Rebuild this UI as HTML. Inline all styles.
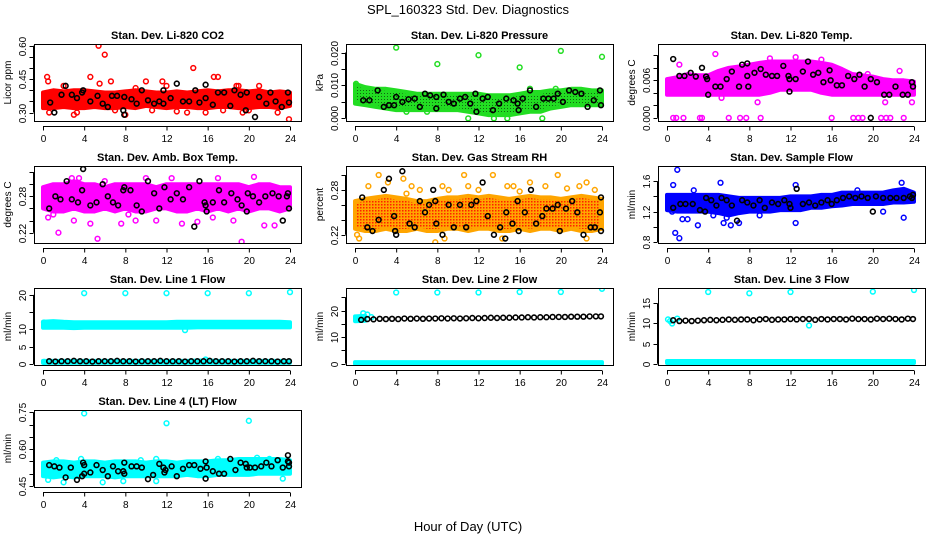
<!DOCTYPE html>
<html><head><meta charset="utf-8"><style>
html,body{margin:0;padding:0;background:#fff}
svg{display:block;font-family:"Liberation Sans",sans-serif}
</style></head><body>
<svg id="chart" width="936" height="540" viewBox="0 0 936 540">
<defs>
<pattern id="rhpat" width="3" height="3" patternUnits="userSpaceOnUse"><rect width="3" height="3" fill="#FFA500"/><rect width="1.5" height="1.5" fill="#FF2000"/></pattern>
<pattern id="prpat" width="3" height="3" patternUnits="userSpaceOnUse"><rect width="3" height="3" fill="#22DD22"/><rect width="1" height="1" fill="#116611"/></pattern>
</defs>
<text x="468" y="14" text-anchor="middle" font-size="13">SPL_160323  Std. Dev. Diagnostics</text>
<text x="468" y="531" text-anchor="middle" font-size="13">Hour of Day (UTC)</text>
</svg>
<script>
const bandHours = [0,1,2,3,4,5,6,7,8,9,10,11,12,13,14,15,16,17,18,19,20,21,22,23,24];
const xTicks = [0,4,8,12,16,20,24];
const panelTitles = ["Stan. Dev. Li-820 CO2","Stan. Dev. Li-820 Pressure","Stan. Dev. Li-820 Temp.","Stan. Dev. Amb. Box Temp.","Stan. Dev. Gas Stream RH","Stan. Dev. Sample Flow","Stan. Dev. Line 1 Flow","Stan. Dev. Line 2 Flow","Stan. Dev. Line 3 Flow","Stan. Dev. Line 4 (LT) Flow"];
const yTitles = ["Licor ppm","kPa","degrees C","degrees C","percent","ml/min","ml/min","ml/min","ml/min","ml/min"];
const yDomains = [[0.262,0.608],[-0.0008,0.0226],[-0.0005,0.0118],[0.203,0.33],[0.209,0.312],[0.787,1.80],[-0.3,22],[-0.5,28.5],[-0.3,18.8],[0.446,0.759]];
const yTickVals = [[0.30,0.35,0.40,0.45,0.50,0.55,0.60],[0,0.005,0.010,0.015,0.020],[0,0.002,0.004,0.006,0.008,0.010],[0.22,0.24,0.26,0.28,0.30,0.32],[0.22,0.24,0.26,0.28,0.30],[0.8,1.0,1.2,1.4,1.6],[0,5,10,15,20],[0,5,10,15,20,25],[0,5,10,15],[0.45,0.50,0.55,0.60,0.65,0.70,0.75]];
const yTickLabels = [["0.30","","","0.45","","","0.60"],["0.000","","0.010","","0.020"],["0.000","","","0.006","",""],["0.22","","","0.28","",""],["0.22","","","0.28",""],["0.8","","1.2","","1.6"],["0","5","10","","20"],["0","","10","","20",""],["0","5","10","15"],["0.45","","","0.60","","","0.75"]];

// Panel 1 CO2
const p1BandLow = [0.32,0.32,0.325,0.32,0.32,0.325,0.32,0.32,0.325,0.32,0.33,0.325,0.32,0.325,0.325,0.32,0.32,0.325,0.325,0.32,0.32,0.325,0.325,0.32,0.33];
const p1BandHigh = [0.39,0.40,0.395,0.40,0.40,0.395,0.39,0.39,0.395,0.40,0.395,0.39,0.39,0.395,0.39,0.395,0.40,0.395,0.40,0.40,0.395,0.40,0.39,0.395,0.39];
const p1ColorPts = [[0.4,0.46],[0.5,0.44],[4.6,0.46],[5.4,0.6],[6,0.56],[6.6,0.44],[10,0.44],[11.6,0.44],[14.6,0.5],[16.6,0.46],[17,0.46],[19,0.42],[3,0.29],[3.3,0.3],[8,0.29],[14,0.3],[15.8,0.3],[19.4,0.3],[22.8,0.3],[23.9,0.27],[0.6,0.3],[2,0.42],[9,0.41],[12,0.42],[21,0.42],[7,0.31],[10.6,0.31],[13,0.305],[17.5,0.31],[20,0.31],[5.5,0.43],[18.8,0.42]];
const p1BlackPts = [[0.7,0.345],[1.1,0.3],[1.8,0.38],[2.2,0.42],[2.8,0.38],[3.3,0.365],[3.8,0.39],[3.9,0.4],[4.6,0.35],[5.3,0.375],[5.8,0.34],[6.3,0.325],[6.7,0.375],[7.2,0.375],[7.8,0.31],[7.9,0.29],[7.9,0.37],[8.6,0.36],[9.1,0.34],[9.6,0.4],[10.2,0.355],[10.8,0.34],[11.3,0.35],[11.7,0.4],[11.7,0.34],[12.4,0.365],[13,0.43],[13.6,0.35],[14.2,0.35],[14.8,0.4],[15.2,0.345],[15.8,0.425],[15.8,0.365],[16.5,0.335],[17,0.39],[17.6,0.39],[18.2,0.33],[18.6,0.4],[19.2,0.38],[19.7,0.31],[19.8,0.39],[20.6,0.28],[21,0.37],[21.7,0.34],[22.1,0.39],[22.6,0.35],[23.2,0.325],[23.8,0.39],[23.9,0.345]];
// Panel 2 Pressure
const p2BandLow = [0.0045,0.004,0.0035,0.003,0.0025,0.0025,0.0025,0.0025,0.0025,0.0025,0.0025,0.002,0.0015,0.001,0.001,0.001,0.0015,0.002,0.002,0.003,0.0035,0.004,0.004,0.004,0.004];
const p2BandHigh = [0.0105,0.0095,0.009,0.009,0.0085,0.008,0.0075,0.0075,0.0075,0.0075,0.0075,0.0075,0.0075,0.007,0.007,0.007,0.0075,0.008,0.008,0.0085,0.0085,0.009,0.009,0.0085,0.0085];
const p2ColorPts = [[4,0.0215],[8,0.0165],[12,0.0192],[16,0.0155],[20,0.0205],[24,0.0187],[11,0],[13.5,0],[14.8,0],[18.2,0],[5,0.002],[7,0.002],[17,0.009],[19.5,0.009],[0.1,0.0105]];
const p2BlackPts = [[0.8,0.0055],[1.4,0.0055],[2.2,0.0085],[2.8,0.0035],[3.3,0.004],[3.8,0.004],[4,0.0065],[4.6,0.005],[5.2,0.0058],[5.8,0.006],[6.3,0.0035],[6.8,0.0075],[7.3,0.007],[7.9,0.003],[7.9,0.0065],[8.6,0.0072],[9.1,0.005],[9.6,0.0045],[10.2,0.006],[10.7,0.0065],[11.2,0.0045],[11.7,0.0075],[11.8,0.002],[12.4,0.006],[12.9,0.0065],[13.4,0.0025],[14,0.0045],[14.7,0.006],[15.4,0.0055],[15.8,0.0045],[15.9,0.0025],[16.3,0.006],[17,0.0085],[17.6,0.0035],[18.3,0.006],[18.8,0.006],[19.3,0.006],[19.7,0.0075],[20.2,0.005],[20.8,0.0085],[21.4,0.008],[22,0.0075],[22.6,0.0035],[23.2,0.0055],[23.8,0.0085],[23.9,0.004]];
// Panel 3 Li-820 temp
const p3BandLow = [0.0037,0.0037,0.0037,0.0037,0.0037,0.0037,0.0037,0.0037,0.0037,0.0037,0.0040,0.0045,0.0045,0.0045,0.0045,0.0040,0.0037,0.0037,0.0037,0.0037,0.0037,0.0037,0.0037,0.0037,0.0037];
const p3BandHigh = [0.0062,0.0065,0.007,0.0068,0.0068,0.0075,0.008,0.0082,0.0085,0.0088,0.009,0.009,0.009,0.009,0.009,0.0088,0.0085,0.0078,0.007,0.0068,0.0066,0.0062,0.006,0.006,0.0058];
const p3ColorPts = [[0.6,0],[0.9,0],[1.6,0],[3.2,0],[3.4,0],[6,0],[7.1,0],[7.7,0],[9.1,0],[16,0],[18.1,0],[18.6,0],[19,0],[20.8,0],[21.3,0],[21.7,0],[23,0],[4.7,0.0102],[10,0.0095],[12.5,0.0097],[15,0.0093],[1.2,0.0085],[19.5,0.007],[22.6,0.0075],[16.7,0.005],[23.8,0.0025],[21.2,0.0025],[5.3,0.0032],[8.8,0.0025]];
const p3BlackPts = [[0.6,0.0094],[1.2,0.0067],[1.7,0.0067],[2.3,0.0072],[2.8,0.0066],[3.4,0.008],[3.8,0.0066],[3.9,0.0062],[4.0,0.0037],[4.7,0.005],[5.2,0.005],[5.8,0.0062],[6.3,0.0074],[7.0,0.005],[7.3,0.0085],[7.8,0.0087],[7.8,0.0067],[7.9,0.005],[8.5,0.0072],[9.1,0.0078],[9.6,0.0069],[10.2,0.0067],[10.7,0.0067],[11.3,0.0083],[11.8,0.0067],[11.9,0.0062],[11.9,0.0042],[12.5,0.0062],[13.2,0.0074],[13.7,0.009],[14.2,0.0069],[14.7,0.0072],[15.2,0.0057],[15.8,0.0076],[15.9,0.006],[16.5,0.0052],[17,0.0052],[17.6,0.0067],[18.2,0.0062],[18.7,0.0069],[19.2,0.005],[19.8,0.0062],[19.8,0],[20.4,0.0057],[21.1,0.0037],[21.6,0.0037],[22.2,0.005],[22.9,0.0037],[23.4,0.0037],[23.8,0.0057],[23.9,0.005]];
// Panel 4 Amb box temp
const p4BandLow = [0.26,0.255,0.255,0.26,0.255,0.255,0.26,0.255,0.26,0.255,0.255,0.26,0.26,0.255,0.255,0.26,0.255,0.26,0.255,0.26,0.255,0.26,0.26,0.255,0.26];
const p4BandHigh = [0.295,0.30,0.30,0.305,0.30,0.30,0.295,0.30,0.30,0.30,0.30,0.295,0.30,0.30,0.30,0.30,0.30,0.30,0.30,0.30,0.295,0.30,0.30,0.295,0.295];
const p4ColorPts = [[1.5,0.22],[5.3,0.21],[19.3,0.205],[2.8,0.31],[3.5,0.31],[12.5,0.31],[17,0.31],[0.5,0.245],[3,0.24],[4.6,0.235],[7.6,0.235],[9,0.24],[11,0.24],[13.5,0.235],[15,0.238],[16.5,0.245],[18.5,0.24],[21.5,0.232],[22.5,0.232],[10,0.31],[20.5,0.312],[6,0.305],[1,0.25],[8.3,0.25]];
const p4BlackPts = [[0.6,0.26],[1.2,0.28],[1.7,0.275],[2.3,0.305],[2.8,0.275],[3.4,0.27],[3.8,0.29],[3.9,0.325],[4.6,0.265],[5.2,0.27],[5.8,0.3],[6.3,0.28],[6.8,0.27],[7.3,0.265],[7.9,0.295],[7.8,0.29],[8.5,0.29],[9.1,0.265],[9.6,0.255],[10.2,0.305],[10.8,0.285],[11.3,0.26],[11.8,0.295],[12.4,0.275],[13,0.285],[13.6,0.275],[14.2,0.295],[14.7,0.23],[15.2,0.305],[15.7,0.27],[15.8,0.265],[15.9,0.255],[16.5,0.27],[17.1,0.29],[17.6,0.27],[18.3,0.285],[18.9,0.275],[19.3,0.265],[19.8,0.255],[19.9,0.285],[20.4,0.28],[21,0.27],[21.6,0.28],[22.3,0.285],[22.9,0.28],[23.3,0.24],[23.8,0.285],[23.9,0.26],[23.7,0.28]];
// Panel 5 Gas stream RH
const p5BandLow = [0.228,0.225,0.225,0.228,0.225,0.225,0.228,0.225,0.225,0.228,0.228,0.225,0.228,0.228,0.225,0.225,0.228,0.225,0.228,0.228,0.225,0.228,0.225,0.225,0.228];
const p5BandHigh = [0.265,0.268,0.27,0.272,0.27,0.268,0.265,0.265,0.268,0.27,0.27,0.272,0.27,0.272,0.27,0.268,0.27,0.272,0.27,0.27,0.268,0.27,0.272,0.27,0.268];
const p5ColorPts = [[0.4,0.215],[1.3,0.285],[2.3,0.3],[3.2,0.29],[4.7,0.295],[5.5,0.285],[6.3,0.28],[8.5,0.285],[9.1,0.28],[10.6,0.3],[11,0.285],[13.4,0.3],[14.8,0.285],[15.4,0.285],[17,0.29],[18.5,0.285],[19.7,0.3],[21.8,0.285],[22.5,0.29],[23.3,0.28],[7.8,0.21],[8.7,0.215],[14.3,0.215],[22.5,0.215],[0.2,0.22],[5,0.275],[16,0.278],[12,0.28],[20.6,0.282]];
const p5BlackPts = [[0.7,0.27],[1.2,0.23],[1.7,0.225],[2.3,0.24],[2.8,0.28],[3.3,0.295],[3.8,0.245],[3.9,0.225],[4.0,0.22],[4.6,0.305],[5.3,0.235],[5.8,0.23],[6.3,0.265],[6.8,0.25],[7.2,0.26],[7.6,0.28],[7.8,0.265],[7.9,0.235],[8.5,0.22],[9.1,0.26],[9.6,0.23],[10.2,0.26],[10.8,0.23],[11.3,0.26],[11.8,0.265],[12.4,0.29],[12.9,0.245],[13.5,0.22],[14.1,0.23],[14.7,0.25],[14.6,0.215],[15.3,0.235],[15.8,0.265],[15.9,0.225],[16.5,0.25],[17.1,0.28],[17.6,0.235],[18.2,0.245],[18.6,0.255],[19.2,0.255],[19.7,0.26],[19.8,0.315],[19.9,0.225],[20.5,0.255],[21.1,0.265],[21.6,0.25],[22.2,0.22],[22.9,0.23],[23.3,0.23],[23.8,0.25],[23.9,0.27],[23.9,0.225]];
// Panel 6 Sample flow
const p6BandLow = [1.22,1.2,1.2,1.2,1.2,1.18,1.15,1.18,1.2,1.2,1.2,1.22,1.22,1.22,1.25,1.25,1.27,1.28,1.3,1.3,1.3,1.3,1.32,1.32,1.33];
const p6BandHigh = [1.42,1.42,1.42,1.42,1.42,1.42,1.4,1.38,1.38,1.38,1.38,1.38,1.4,1.4,1.4,1.42,1.42,1.45,1.45,1.45,1.45,1.45,1.48,1.5,1.45];
const p6ColorPts = [[1,1.75],[0.8,0.92],[1.2,0.85],[0.6,1.55],[1.5,1.1],[2,1.1],[3,1.02],[5.2,1.58],[5.5,1.05],[6.2,1.02],[7,1.05],[12.5,1.05],[12.5,1.55],[23,1.12],[22.8,1.58],[4.5,1.15],[9,1.15],[0.5,1.2],[18.5,1.48],[21,1.2],[5.8,1.12],[2.6,1.48]];
const p6BlackPts = [[0.6,1.25],[1.3,1.3],[1.8,1.3],[2.5,1.3],[3.2,1.22],[3.7,1.2],[3.8,1.38],[4.3,1.35],[4.8,1.28],[5.3,1.38],[5.8,1.35],[6.3,1.28],[6.8,1.08],[7.3,1.35],[7.8,1.32],[8.4,1.28],[9.0,1.35],[9.5,1.25],[10.2,1.32],[10.8,1.3],[11.4,1.35],[11.9,1.3],[12.0,1.25],[12.6,1.5],[13.2,1.3],[13.8,1.32],[14.4,1.28],[15.0,1.32],[15.6,1.35],[16.0,1.3],[16.5,1.35],[17.1,1.38],[17.7,1.4],[18.3,1.38],[18.9,1.4],[19.5,1.38],[20.0,1.2],[20.3,1.4],[21.0,1.38],[21.7,1.38],[22.3,1.38],[23.0,1.38],[23.6,1.4],[23.9,1.42],[23.8,1.38]];
// Panels 7-9 Line flows
const lineHours = [0.6,1.2,1.8,2.4,3.0,3.6,4.2,4.8,5.4,6.0,6.6,7.2,7.8,8.4,9.0,9.6,10.2,10.8,11.4,12.0,12.6,13.2,13.8,14.4,15.0,15.6,16.2,16.8,17.4,18.0,18.6,19.2,19.8,20.4,21.0,21.6,22.2,22.8,23.4,23.9];
const p7BandLow = [10.5,10.5,10.5,10.4,10.5,10.5,10.5,10.5,10.5,10.5,10.5,10.5,10.5,10.5,10.5,10.6,10.6,10.6,10.6,10.6,10.6,10.6,10.6,10.6,10.6];
const p7BandHigh = [12.2,12.4,12.2,12.1,12.1,12.1,12.1,12.1,12.1,12.1,12.1,12.1,12.1,12.2,12.2,12.2,12.2,12.2,12.2,12.2,12.2,12.2,12.2,12.2,12.1];
const p7LowBandLow = [0.3,0.3,0.3,0.3,0.3,0.3,0.3,0.3,0.3,0.3,0.3,0.3,0.3,0.3,0.3,0.3,0.3,0.3,0.3,0.3,0.3,0.3,0.3,0.3,0.3];
const p7LowBandHigh = [0.9,0.9,0.9,0.9,0.9,0.9,0.9,0.9,0.9,0.9,0.9,0.9,0.9,0.9,0.9,1.0,1.0,0.9,0.9,0.9,0.9,0.9,0.9,0.9,0.9];
const p7ColorPts = [[4,20.5],[8,20.5],[12,20.5],[16,20.5],[20,20.5],[24,20.8],[13.8,9.8],[0.1,12],[0.1,0.6],[15.8,1.3]];
const p7BlackY = [0.8,0.7,0.8,0.8,0.9,0.8,0.8,0.7,0.8,0.8,0.8,0.9,0.8,0.8,0.7,0.8,0.8,0.8,0.9,0.8,0.8,0.8,0.7,0.8,0.8,0.8,0.9,0.8,0.8,0.8,0.7,0.8,0.8,0.9,0.8,0.8,0.8,0.7,0.8,0.8];
const p8BandLow = [16.0,16.2,0,0,0,0,0,0,0,0,0,0,0,0,0,0,0,0,0,0,0,0,0,0,0];
const p8BandHigh = [17.8,18.0,0,0,0,0,0,0,0,0,0,0,0,0,0,0,0,0,0,0,0,0,0,0,0];
const p8LowBandLow = [0.0,0.0,0.0,0.0,0.0,0.0,0.0,0.0,0.0,0.0,0.0,0.0,0.0,0.0,0.0,0.0,0.0,0.0,0.0,0.0,0.0,0.0,0.0,0.0,0.0];
const p8LowBandHigh = [0.6,0.6,0.6,0.6,0.6,0.6,0.6,0.6,0.6,0.6,0.6,0.6,0.6,0.6,0.6,0.6,0.6,0.6,0.6,0.6,0.6,0.6,0.6,0.6,0.6];
const p8ColorPts = [[4,26.8],[8,26.8],[12,26.8],[16,27],[20,27],[24,28.2],[0.8,19],[1.2,18.5],[0.2,17],[1.6,17.5]];
const p8BlackY = [16.5,16.8,16.7,16.9,16.8,16.9,16.8,17.0,16.9,17.0,16.9,17.0,17.0,17.1,17.0,17.1,17.0,17.1,17.2,17.1,17.2,17.3,17.2,17.3,17.3,17.4,17.4,17.5,17.4,17.5,17.5,17.6,17.6,17.6,17.7,17.7,17.7,17.8,17.8,17.8];
const p9LowBandLow = [0.2,0.2,0.2,0.2,0.2,0.2,0.2,0.2,0.2,0.2,0.2,0.2,0.2,0.2,0.2,0.2,0.2,0.2,0.2,0.2,0.2,0.2,0.2,0.2,0.2];
const p9LowBandHigh = [0.7,0.7,0.7,0.7,0.7,0.7,0.7,0.7,0.7,0.7,0.7,0.7,0.7,0.7,0.7,0.7,0.7,0.7,0.7,0.7,0.7,0.7,0.7,0.7,0.7];
const p9ColorPts = [[4,17.8],[8,17.5],[12,17.8],[20,17.9],[24,18.3],[13.8,9.5],[0.1,11],[0.5,10],[1,11.2],[0.3,10.6]];
const p9BlackY = [10.8,10.6,10.7,10.6,10.7,10.8,10.9,10.8,10.9,11.0,10.9,11.0,11.0,10.8,11.0,11.1,10.9,11.0,11.0,11.1,11.0,11.1,11.1,10.9,11.1,11.0,11.1,11.1,11.0,11.2,11.1,11.1,11.0,11.2,11.1,11.2,11.1,11.0,11.2,11.1];
// Panel 10 Line 4 flow
const p10BandLow = [0.49,0.485,0.49,0.485,0.49,0.49,0.49,0.485,0.49,0.49,0.49,0.49,0.49,0.49,0.495,0.49,0.49,0.495,0.495,0.495,0.495,0.5,0.5,0.5,0.5];
const p10BandHigh = [0.545,0.55,0.55,0.545,0.55,0.55,0.545,0.55,0.55,0.55,0.545,0.55,0.55,0.545,0.55,0.55,0.55,0.555,0.555,0.56,0.56,0.56,0.56,0.56,0.555];
const p10ColorPts = [[4,0.745],[12,0.705],[20,0.715],[0.5,0.475],[2,0.465],[5.8,0.465],[7.8,0.47],[11,0.47],[23.3,0.48],[1.3,0.555],[3.7,0.56],[9.5,0.555],[11,0.56],[17,0.56],[20.8,0.565],[22,0.56]];
const p10BlackPts = [[0.6,0.535],[1.1,0.53],[1.6,0.525],[2.2,0.485],[2.7,0.525],[3.3,0.475],[3.8,0.49],[3.9,0.545],[4.0,0.5],[4.0,0.535],[4.6,0.505],[5.2,0.535],[5.8,0.515],[6.3,0.49],[6.8,0.53],[7.3,0.51],[7.8,0.51],[7.9,0.545],[7.9,0.5],[8.6,0.53],[9.1,0.53],[9.6,0.525],[10.2,0.478],[10.7,0.495],[11.3,0.54],[11.7,0.525],[11.8,0.505],[11.9,0.515],[12.5,0.53],[13.0,0.49],[13.6,0.52],[14.2,0.535],[14.7,0.535],[15.3,0.52],[15.8,0.48],[15.8,0.55],[15.9,0.525],[16.5,0.51],[17.1,0.5],[17.6,0.5],[18.2,0.56],[18.7,0.515],[19.2,0.545],[19.7,0.54],[19.8,0.525],[20.1,0.525],[20.6,0.525],[21.2,0.53],[21.7,0.545],[22.2,0.53],[22.8,0.555],[23.3,0.525],[23.8,0.575],[23.8,0.55],[23.9,0.545],[23.9,0.53]];

function pairs(xs, ys){ return xs.map((x,i)=>[x,ys[i]]); }

const panels = [
 {bands:[[p1BandLow,p1BandHigh]], color:"#FF0000", fill:"#FF0000", pts:p1ColorPts, black:p1BlackPts},
 {bands:[[p2BandLow,p2BandHigh]], color:"#22DD22", fill:"url(#prpat)", pts:p2ColorPts, black:p2BlackPts},
 {bands:[[p3BandLow,p3BandHigh]], color:"#FF00FF", fill:"#FF00FF", pts:p3ColorPts, black:p3BlackPts},
 {bands:[[p4BandLow,p4BandHigh]], color:"#FF00FF", fill:"#FF00FF", pts:p4ColorPts, black:p4BlackPts},
 {bands:[[p5BandLow,p5BandHigh]], color:"#FFA500", fill:"url(#rhpat)", pts:p5ColorPts, black:p5BlackPts},
 {bands:[[p6BandLow,p6BandHigh]], color:"#0000FF", fill:"#0000FF", pts:p6ColorPts, black:p6BlackPts},
 {bands:[[p7BandLow,p7BandHigh],[p7LowBandLow,p7LowBandHigh]], color:"#00FFFF", fill:"#00FFFF", pts:p7ColorPts, black:pairs(lineHours,p7BlackY)},
 {bands:[[p8BandLow,p8BandHigh,2],[p8LowBandLow,p8LowBandHigh]], color:"#00FFFF", fill:"#00FFFF", pts:p8ColorPts, black:pairs(lineHours,p8BlackY)},
 {bands:[[p9LowBandLow,p9LowBandHigh]], color:"#00FFFF", fill:"#00FFFF", pts:p9ColorPts, black:pairs(lineHours,p9BlackY)},
 {bands:[[p10BandLow,p10BandHigh]], color:"#00FFFF", fill:"#00FFFF", pts:p10ColorPts, black:p10BlackPts}
];

const NS = "http://www.w3.org/2000/svg";
const svg = document.getElementById('chart');
const colLeft = [34,346,658], rowTop = [44,166,288,410], PW = 267, PH = 77;
function mk(tag, attrs, parent){ const e=document.createElementNS(NS,tag); for(const k in attrs) e.setAttribute(k,attrs[k]); parent.appendChild(e); return e; }

panels.forEach((p, i) => {
  const L = colLeft[i%3], T = rowTop[Math.floor(i/3)];
  const dom = yDomains[i];
  const xs = h => L + 9 + h/24*247;
  const ys = v => T + PH - (v-dom[0])/(dom[1]-dom[0])*PH;
  const g = mk('g', {}, svg);
  
  
  const clipId = 'clip' + i;
  const cp = mk('clipPath', {id:clipId}, g);
  mk('rect', {x:L, y:T, width:PW, height:PH}, cp);
  const plot = mk('g', {'clip-path':'url(#'+clipId+')'}, g);
  // bands
  p.bands.forEach((b, bi) => {
    const lo=b[0], hi=b[1], n = b[2] || bandHours.length;
    const hrs = bandHours.slice(0,n);
    let d = hrs.map((h,k)=>(k?'L':'M')+xs(h).toFixed(1)+','+ys(hi[k]).toFixed(1)).join('');
    for(let k=n-1;k>=0;k--) d += 'L'+xs(hrs[k]).toFixed(1)+','+ys(lo[k]).toFixed(1);
    d += 'Z';
    const band = mk('path', {d:d, fill:p.fill, stroke:p.color, 'stroke-width':4, 'stroke-linejoin':'round'}, plot);
    
    
  });
  p.pts.forEach(pt => {
    const c = mk('circle', {cx:xs(pt[0]), cy:ys(pt[1]), r:2.4, fill:'none', stroke:p.color, 'stroke-width':1.5}, plot);
    
    
  });
  p.black.forEach(pt => {
    const c = mk('circle', {cx:xs(pt[0]), cy:ys(pt[1]), r:2.4, fill:'none', stroke:'#000', 'stroke-width':1.6}, plot);
    
    
  });
  // box
  const box = mk('rect', {x:L+0.5, y:T+0.5, width:PW, height:PH, fill:'none', stroke:'#000', 'stroke-width':1}, g);
  
  
  // title
  const t = mk('text', {x:L+PW/2, y:T-5, 'text-anchor':'middle', 'font-size':11, 'font-weight':'bold'}, g);
  t.textContent = panelTitles[i];
  
  
  // x axis
  const ax = mk('g', {stroke:'#000', 'stroke-width':1}, g);
  
  
  const ay0 = T+PH+5.5;
  mk('line', {x1:xs(0), x2:xs(24), y1:ay0, y2:ay0}, ax);
  xTicks.forEach(v => {
    mk('line', {x1:xs(v)+0.5, x2:xs(v)+0.5, y1:ay0, y2:ay0+4}, ax);
    const tl = mk('text', {x:xs(v)+0.5, y:T+PH+21, 'text-anchor':'middle', 'font-size':10, stroke:'none'}, g);
    tl.textContent = v;
    
    
  });
  // y axis
  const yax = mk('g', {stroke:'#000', 'stroke-width':1}, g);
  
  
  const tv = yTickVals[i];
  const ax0 = L-0.5;
  mk('line', {x1:ax0, x2:ax0, y1:ys(tv[0]), y2:ys(tv[tv.length-1])}, yax);
  tv.forEach((v,k) => {
    const y = Math.round(ys(v))+0.5;
    mk('line', {x1:ax0-4, x2:ax0, y1:y, y2:y}, yax);
    const lab = yTickLabels[i][k];
    if(lab){
      const tl = mk('text', {x:0, y:0, transform:'translate('+(L-8)+','+y+') rotate(-90)', 'text-anchor':'middle', 'font-size':10}, g);
      tl.textContent = lab;
      
      
    }
  });
  const yt = mk('text', {x:0, y:0, transform:'translate('+(L-23)+','+(T+PH/2)+') rotate(-90)', 'text-anchor':'middle', 'font-size':10}, g);
  yt.textContent = yTitles[i];
  
  
});
</script>
</body></html>
